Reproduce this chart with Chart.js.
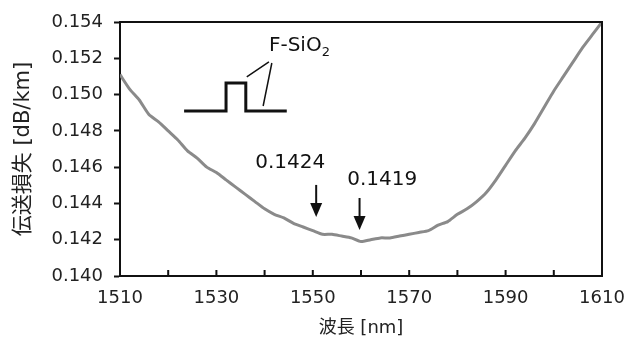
<!DOCTYPE html>
<html>
<head>
<meta charset="utf-8">
<script src="https://cdn.jsdelivr.net/npm/chart.js@4.4.1/dist/chart.umd.min.js"></script>
<style>
  html, body { margin: 0; padding: 0; background: #fff; }
  #wrap { width: 626px; height: 345px; }
</style>
</head>
<body>
<div id="wrap"><canvas id="c" width="626" height="345"></canvas></div>
<script>
// ---- data ----
const wavelengths = [1510,1512,1514,1516,1518,1520,1522,1524,1526,1528,1530,1532,1534,1536,1538,1540,1542,1544,1546,1548,1550,1552,1554,1556,1558,1560,1562,1564,1566,1568,1570,1572,1574,1576,1578,1580,1582,1584,1586,1588,1590,1592,1594,1596,1598,1600,1602,1604,1606,1608,1610];
const loss = [0.1511,0.1503,0.1497,0.1489,0.1485,0.1480,0.1475,0.1469,0.1465,0.1460,0.1457,0.1453,0.1449,0.1445,0.1441,0.1437,0.1434,0.1432,0.1429,0.1427,0.1425,0.1423,0.1423,0.1422,0.1421,0.1419,0.1420,0.1421,0.1421,0.1422,0.1423,0.1424,0.1425,0.1428,0.1430,0.1434,0.1437,0.1441,0.1446,0.1453,0.1461,0.1469,0.1476,0.1484,0.1493,0.1502,0.1510,0.1518,0.1526,0.1533,0.1540];
const xTickLabels = [1510,1530,1550,1570,1590,1610];
const yTickValues = [0.140,0.142,0.144,0.146,0.148,0.150,0.152,0.154];
const xTitle = '波長 [nm]';
const yTitle = '伝送損失 [dB/km]';
const markerLabels = ['0.1424','0.1419'];
const markerWavelengths = [1550.7, 1559.7];
const profileLabel = 'F-SiO';

const FONT = '"DejaVu Sans", Verdana, "Noto Sans CJK JP", sans-serif';

// annotation plugin: frame, inside x ticks, arrows, fiber profile sketch
const decor = {
  id: 'decor',
  afterDraw(chart) {
    const ctx = chart.ctx, a = chart.chartArea;
    const xs = chart.scales.x, ys = chart.scales.y;
    const X = v => xs.getPixelForValue(v), Y = v => ys.getPixelForValue(v);
    ctx.save();
    // top & right frame
    ctx.strokeStyle = '#111';
    ctx.lineWidth = 2;
    ctx.beginPath();
    ctx.moveTo(a.left, a.top); ctx.lineTo(a.right, a.top); ctx.lineTo(a.right, a.bottom);
    ctx.stroke();
    // inside x tick marks every 10 nm
    ctx.lineWidth = 2;
    ctx.beginPath();
    for (let v = 1520; v < 1610; v += 10) {
      const px = X(v);
      ctx.moveTo(px, a.bottom); ctx.lineTo(px, a.bottom - 6);
    }
    ctx.stroke();

    // arrows with value labels
    ctx.fillStyle = '#111';
    ctx.font = '20px ' + FONT;
    ctx.textAlign = 'center';
    ctx.textBaseline = 'alphabetic';
    const arrows = [
      {x: markerWavelengths[0], y0: 0.14502, y1: 0.14325, tx: 1545.3, ty: 0.14595, t: markerLabels[0]},
      {x: markerWavelengths[1], y0: 0.14430, y1: 0.14254, tx: 1564.4, ty: 0.14502, t: markerLabels[1]}
    ];
    arrows.forEach(ar => {
      const px = X(ar.x), p0 = Y(ar.y0), p1 = Y(ar.y1);
      ctx.lineWidth = 2;
      ctx.beginPath(); ctx.moveTo(px, p0); ctx.lineTo(px, p1 - 12); ctx.stroke();
      ctx.beginPath();
      ctx.moveTo(px - 6, p1 - 14); ctx.lineTo(px + 6, p1 - 14); ctx.lineTo(px, p1); ctx.closePath();
      ctx.fill();
      ctx.fillText(ar.t, X(ar.tx), Y(ar.ty));
    });

    // fiber index profile sketch
    ctx.lineWidth = 3;
    ctx.lineJoin = 'miter';
    ctx.beginPath();
    ctx.moveTo(X(1523.3), Y(0.14909));
    ctx.lineTo(X(1532.0), Y(0.14909));
    ctx.lineTo(X(1532.0), Y(0.15064));
    ctx.lineTo(X(1536.1), Y(0.15064));
    ctx.lineTo(X(1536.1), Y(0.14909));
    ctx.lineTo(X(1544.6), Y(0.14909));
    ctx.stroke();
    ctx.lineWidth = 1.5;
    ctx.beginPath();
    ctx.moveTo(X(1540.9), Y(0.15180)); ctx.lineTo(X(1536.3), Y(0.15097));
    ctx.moveTo(X(1541.5), Y(0.15174)); ctx.lineTo(X(1539.7), Y(0.14937));
    ctx.stroke();
    ctx.textAlign = 'left';
    ctx.font = '20px ' + FONT;
    const tx = X(1540.9), ty = Y(0.15240);
    ctx.fillText(profileLabel, tx, ty);
    const w = ctx.measureText(profileLabel).width;
    ctx.font = '13px ' + FONT;
    ctx.fillText('2', tx + w, ty + 5);
    ctx.restore();
  }
};

new Chart(document.getElementById('c'), {
  type: 'line',
  data: {
    datasets: [{
      data: wavelengths.map((w, i) => ({x: w, y: loss[i]})),
      borderColor: '#8a8a8a',
      borderWidth: 3,
      pointRadius: 0,
      tension: 0.2,
      fill: false
    }]
  },
  options: {
    responsive: false,
    animation: false,
    layout: { padding: { top: 22, right: 24, left: 0, bottom: 0 } },
    plugins: { legend: { display: false }, tooltip: { enabled: false } },
    scales: {
      x: {
        type: 'linear',
        min: 1510, max: 1610,
        afterBuildTicks: s => { s.ticks = xTickLabels.map(v => ({value: v})); },
        afterFit: s => { s.height = 69; s.paddingLeft = 0; s.paddingRight = 0; },
        grid: { display: true, drawOnChartArea: false, drawTicks: false },
        border: { display: true, color: '#111', width: 2 },
        ticks: { color: '#222', font: { family: FONT, size: 18 }, padding: 12, maxRotation: 0, callback: v => String(v) },
        title: { display: true, text: xTitle, color: '#222', font: { family: FONT, size: 18 }, padding: { top: 2, bottom: 6 } }
      },
      y: {
        type: 'linear',
        min: 0.140, max: 0.154,
        afterBuildTicks: s => { s.ticks = yTickValues.map(v => ({value: v})); },
        afterFit: s => { s.width = 120; s.paddingTop = 0; s.paddingBottom = 0; },
        grid: { display: true, drawOnChartArea: false, drawTicks: true, tickLength: 6, tickWidth: 2, tickColor: '#111' },
        border: { display: true, color: '#111', width: 2 },
        ticks: { color: '#222', font: { family: FONT, size: 18 }, padding: 11, callback: v => v.toFixed(3) },
        title: { display: true, text: yTitle, color: '#222', font: { family: FONT, size: 21 }, padding: { top: 11, bottom: 4 } }
      }
    }
  },
  plugins: [decor]
});
</script>
</body>
</html>
